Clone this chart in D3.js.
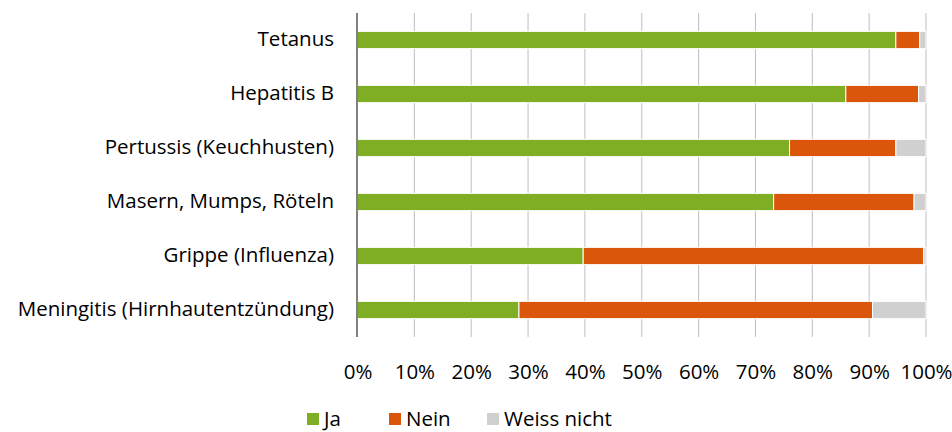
<!DOCTYPE html>
<html><head><meta charset="utf-8">
<script src="https://cdn.jsdelivr.net/npm/d3@7"></script>
<style>body{margin:0;background:#fff}svg{display:block}text{font-family:"Open Sans",sans-serif;fill:#000}</style>
</head><body><svg id="c" width="952" height="432"></svg>
<script>
const categories = ["Tetanus","Hepatitis B","Pertussis (Keuchhusten)","Masern, Mumps, Röteln","Grippe (Influenza)","Meningitis (Hirnhautentzündung)"];
const seriesNames = ["Ja","Nein","Weiss nicht"];
const ja = [94.7, 85.9, 76.0, 73.2, 39.7, 28.4];
const nein = [4.2, 12.8, 18.7, 24.7, 59.9, 62.2];
const weissNicht = [1.1, 1.3, 5.3, 2.1, 0.4, 9.4];
const tickValues = [0,10,20,30,40,50,60,70,80,90,100];
const colors = ["#7fae25","#da560b","#d0d0d0"];
const FS = 20.5;

const svg = d3.select("#c");
const x = d3.scaleLinear().domain([0,100]).range([357.5,926]);
const y = d3.scaleBand().domain(categories).range([13,337]).paddingInner(0.68).paddingOuter(0.34);

const stackData = categories.map((c,i)=>({cat:c, "Ja":ja[i], "Nein":nein[i], "Weiss nicht":weissNicht[i]}));
const stacked = d3.stack().keys(seriesNames)(stackData);

svg.append("g").selectAll("line").data(tickValues.slice(1)).join("line")
  .attr("x1",d=>x(d)).attr("x2",d=>x(d)).attr("y1",13).attr("y2",337)
  .attr("stroke","#bfbfbf").attr("stroke-width",1);

svg.append("g").selectAll("g").data(stacked).join("g")
  .attr("fill",(d,i)=>colors[i])
  .selectAll("rect").data(d=>d).join("rect")
  .attr("x",d=>x(d[0])).attr("width",d=>x(d[1])-x(d[0]))
  .attr("y",d=>y(d.data.cat)).attr("height",y.bandwidth())
  .attr("stroke","#fff").attr("stroke-width",1);

svg.append("line").attr("x1",357).attr("x2",357).attr("y1",13).attr("y2",337)
  .attr("stroke","#595959").attr("stroke-width",1.5);

svg.append("g").selectAll("text").data(categories).join("text")
  .attr("x",334).attr("y",d=>y(d)+y.bandwidth()/2).attr("dy","0.3em")
  .attr("text-anchor","end").attr("font-size",FS).text(d=>d);

const xAxis = svg.append("g").attr("transform","translate(0,379)")
  .call(d3.axisBottom(x).tickValues(tickValues).tickFormat(d=>d+"%").tickSize(0).tickPadding(0));
xAxis.select(".domain").remove();
xAxis.selectAll("text").attr("dy",0).attr("y",0).attr("font-size",FS).attr("font-family","'Open Sans',sans-serif").attr("fill","#000");

const legSq = [307, 389, 487];
const leg = svg.append("g").selectAll("g").data(seriesNames).join("g")
  .attr("transform",(d,i)=>`translate(${legSq[i]},413)`);
leg.append("rect").attr("width",12).attr("height",12).attr("fill",(d,i)=>colors[i]);
leg.append("text").attr("x",17).attr("y",13).attr("font-size",FS).text(d=>d);
</script></body></html>
